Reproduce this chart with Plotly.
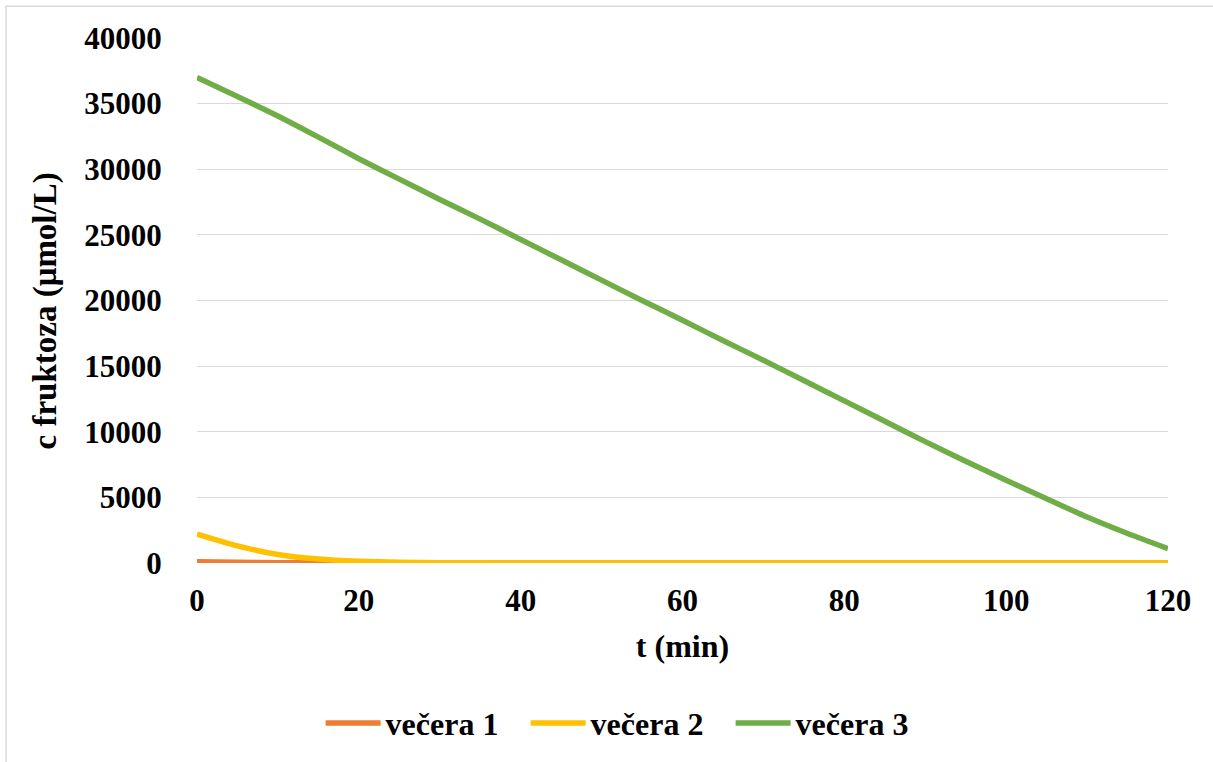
import plotly.graph_objects as go

t_min = [0, 5, 10, 15, 20, 25, 30, 35, 40, 45, 50, 55, 60,
         65, 70, 75, 80, 85, 90, 95, 100, 105, 110, 115, 120]

vecera_1 = [100, 50, 20, 8, 3, 1, 0, 0, 0, 0, 0, 0, 0,
            0, 0, 0, 0, 0, 0, 0, 0, 0, 0, 0, 0]
vecera_2 = [2200, 1300, 650, 300, 130, 60, 25, 10, 5, 2, 1, 0, 0,
            0, 0, 0, 0, 0, 0, 0, 0, 0, 0, 0, 0]
vecera_3 = [37000, 35550, 34050, 32450, 30800, 29250, 27700, 26200, 24650,
            23100, 21550, 20000, 18500, 16950, 15450, 13900, 12350, 10800,
            9250, 7750, 6300, 4900, 3500, 2250, 1100]

series_names = ["večera 1", "večera 2", "večera 3"]
series_values = [vecera_1, vecera_2, vecera_3]
colors = ["#ED7D31", "#FFC000", "#70AD47"]

x_ticks = [0, 20, 40, 60, 80, 100, 120]
y_ticks = [0, 5000, 10000, 15000, 20000, 25000, 30000, 35000, 40000]

FONT = "Liberation Serif, Times New Roman, serif"

fig = go.Figure()
for name, vals, col in zip(series_names, series_values, colors):
    fig.add_trace(go.Scatter(
        x=t_min, y=vals, name=name, mode="lines",
        line=dict(color=col, width=5.5, shape="spline", smoothing=0.6),
        cliponaxis=False,
    ))

fig.update_layout(
    width=1213, height=762,
    margin=dict(l=197, r=45, t=38, b=196),
    paper_bgcolor="white", plot_bgcolor="white",
    font=dict(family=FONT, size=31, color="black"),
    showlegend=True,
    legend=dict(
        orientation="h", x=0.444, xanchor="center", y=-0.305, yanchor="middle",
        font=dict(family=FONT, size=32, color="black", weight="bold"),
        entrywidth=135, entrywidthmode="pixels",
        itemwidth=55,
    ),
    xaxis=dict(
        range=[0, 120], tickvals=x_ticks, ticktext=[str(v) for v in x_ticks],
        showgrid=False, zeroline=False, showline=False,
        ticks="outside", ticklen=10, tickcolor="rgba(0,0,0,0)",
        tickfont=dict(family=FONT, size=31, color="black", weight="bold"),
        title=dict(text="<b>t (min)</b>", font=dict(family=FONT, size=32, color="black"),
                   standoff=17),
    ),
    yaxis=dict(
        range=[0, 40000], tickvals=y_ticks, ticktext=[str(v) for v in y_ticks],
        showgrid=True, gridcolor="#D9D9D9", gridwidth=1.3,
        zeroline=False, showline=False,
        ticks="outside", ticklen=28, tickcolor="rgba(0,0,0,0)",
        tickfont=dict(family=FONT, size=31, color="black", weight="bold"),
    ),
)

fig.add_annotation(
    text="<b>c fruktoza (μmol/L)</b>", textangle=-90,
    xref="paper", yref="paper", x=(45 - 197) / 971, y=(566 - 313) / 528,
    xanchor="center", yanchor="middle", showarrow=False,
    font=dict(family=FONT, size=33, color="black"),
)

fig.add_shape(type="rect", xref="paper", yref="paper",
              x0=(6 - 197) / 971, x1=(1230 - 197) / 971,
              y0=(566 - 780) / 528, y1=(566 - 6) / 528,
              line=dict(color="#D9D9D9", width=1.5), fillcolor="rgba(0,0,0,0)",
              layer="below")

fig.write_html("out.html", config={"displayModeBar": False},
               post_script="document.body.style.margin='0';document.body.style.overflow='hidden';")
